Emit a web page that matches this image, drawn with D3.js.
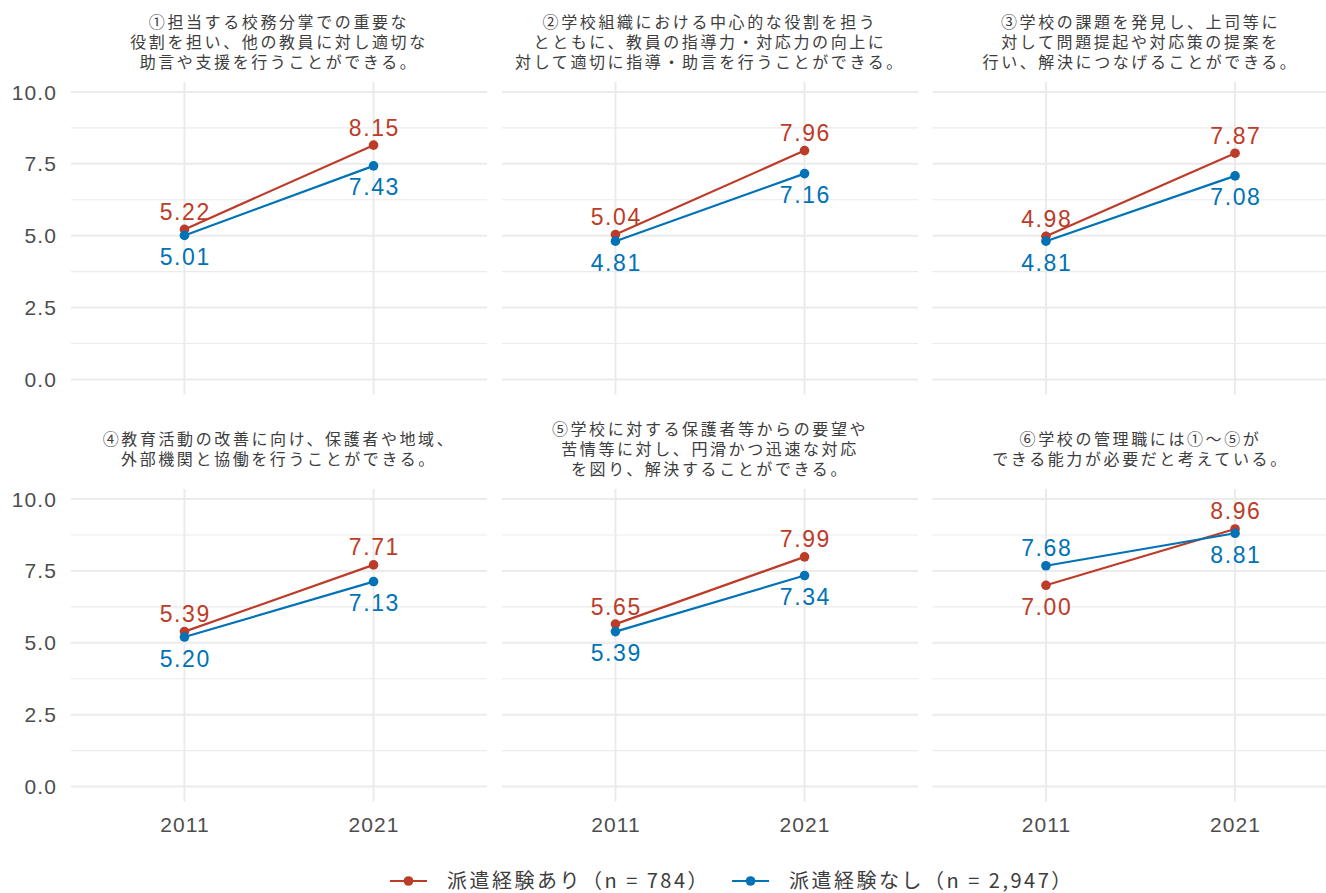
<!DOCTYPE html>
<html>
<head>
<meta charset="utf-8">
<script src="https://cdn.jsdelivr.net/npm/d3@7"></script>
<style>
  body { margin: 0; background: #fff; }
  .title { font-family: "Noto Sans CJK JP", sans-serif; font-size: 16px; fill: #3d3d3d; letter-spacing: 2.6px; }
  .tick-label { font-family: "Liberation Sans", Arial, sans-serif; font-size: 21px; fill: #4d4d4d; letter-spacing: 1.1px; }
  .val { font-family: "Liberation Sans", Arial, sans-serif; font-size: 23px; letter-spacing: 1.6px; }
  .legend-text { font-family: "Noto Sans CJK JP", sans-serif; font-size: 20px; fill: #3d3d3d; letter-spacing: 2.5px; }
</style>
</head>
<body>
<div id="chart"></div>
<script>
var years = ["2011", "2021"];
var yTicks = [0, 2.5, 5, 7.5, 10];
var yMinor = [1.25, 3.75, 6.25, 8.75];

var titles = [
  ["①担当する校務分掌での重要な", "役割を担い、他の教員に対し適切な", "助言や支援を行うことができる。"],
  ["②学校組織における中心的な役割を担う", "とともに、教員の指導力・対応力の向上に", "対して適切に指導・助言を行うことができる。"],
  ["③学校の課題を発見し、上司等に", "対して問題提起や対応策の提案を", "行い、解決につなげることができる。"],
  ["④教育活動の改善に向け、保護者や地域、", "外部機関と協働を行うことができる。"],
  ["⑤学校に対する保護者等からの要望や", "苦情等に対し、円滑かつ迅速な対応", "を図り、解決することができる。"],
  ["⑥学校の管理職には①～⑤が", "できる能力が必要だと考えている。"]
];

// 派遣経験あり / なし, values for 2011 and 2021 per panel
var withDispatch = [[5.22, 8.15], [5.04, 7.96], [4.98, 7.87], [5.39, 7.71], [5.65, 7.99], [7.00, 8.96]];
var withoutDispatch = [[5.01, 7.43], [4.81, 7.16], [4.81, 7.08], [5.20, 7.13], [5.39, 7.34], [7.68, 8.81]];

var seriesNames = ["派遣経験あり（n = 784）", "派遣経験なし（n = 2,947）"];
var colors = ["#BC3C29", "#0072B5"];

var width = 1326, height = 893;
var panelW = 416, panelH = 312.5;
var colX = [71, 502, 932.5];
var rowY = [81.9, 489];

var x = d3.scalePoint().domain(years).range([0, panelW]).padding(0.6);
var y = d3.scaleLinear().domain([-0.52, 10.35]).range([panelH, 0]);

var line = d3.line()
    .x(function(d) { return x(d.year); })
    .y(function(d) { return y(d.value); });

var svg = d3.select("#chart").append("svg")
    .attr("width", width)
    .attr("height", height)
    .style("background", "#fff");

titles.forEach(function(title, i) {
  var col = i % 3, row = Math.floor(i / 3);
  var g = svg.append("g")
      .attr("transform", "translate(" + colX[col] + "," + rowY[row] + ")");

  // grid
  g.selectAll(".minor").data(yMinor).enter().append("line")
      .attr("x1", 0).attr("x2", panelW)
      .attr("y1", function(d) { return y(d); }).attr("y2", function(d) { return y(d); })
      .style("stroke", "#ebebeb").style("stroke-width", 1.1);
  g.selectAll(".major").data(yTicks).enter().append("line")
      .attr("x1", 0).attr("x2", panelW)
      .attr("y1", function(d) { return y(d); }).attr("y2", function(d) { return y(d); })
      .style("stroke", "#ebebeb").style("stroke-width", 2);
  g.selectAll(".vgrid").data(years).enter().append("line")
      .attr("x1", function(d) { return x(d); }).attr("x2", function(d) { return x(d); })
      .attr("y1", 0).attr("y2", panelH)
      .style("stroke", "#ebebeb").style("stroke-width", 2);

  // strip title, centred on block
  var lineH = 19.8;
  var top = -39.5 - (title.length - 1) * lineH / 2;
  title.forEach(function(t, k) {
    g.append("text")
        .attr("class", "title")
        .attr("x", panelW / 2)
        .attr("y", top + k * lineH)
        .attr("dy", "0.36em")
        .attr("text-anchor", "middle")
        .text(t);
  });

  // y axis labels on the left column only
  if (col === 0) {
    g.selectAll(".ytick").data(yTicks).enter().append("text")
        .attr("class", "tick-label")
        .attr("x", -14)
        .attr("y", function(d) { return y(d); })
        .attr("dy", "0.36em")
        .attr("text-anchor", "end")
        .text(function(d) { return d3.format(".1f")(d); });
  }
  if (row === 1) {
    g.selectAll(".xtick").data(years).enter().append("text")
        .attr("class", "tick-label")
        .attr("x", function(d) { return x(d) + 0.5; })
        .attr("y", panelH + 23)
        .attr("dy", "0.36em")
        .attr("text-anchor", "middle")
        .text(function(d) { return d; });
  }

  var series = [withDispatch[i], withoutDispatch[i]].map(function(vals) {
    return vals.map(function(v, j) { return {year: years[j], value: v}; });
  });

  series.forEach(function(s, si) {
    g.append("path")
        .attr("d", line(s))
        .style("fill", "none")
        .style("stroke", colors[si])
        .style("stroke-width", 2.2);
  });

  series.forEach(function(s, si) {
    var other = series[1 - si];
    g.selectAll(".pt" + si).data(s).enter().append("circle")
        .attr("cx", function(d) { return x(d.year); })
        .attr("cy", function(d) { return y(d.value); })
        .attr("r", 4.8)
        .style("fill", colors[si]);

    // label above the higher point, below the lower one
    g.selectAll(".lb" + si).data(s).enter().append("text")
        .attr("class", "val")
        .attr("x", function(d) { return x(d.year) + 0.8; })
        .attr("y", function(d, j) {
          var above = d.value >= other[j].value;
          return y(d.value) + (above ? -9.5 : 29.5);
        })
        .attr("text-anchor", "middle")
        .style("fill", colors[si])
        .text(function(d) { return d3.format(".2f")(d.value); });
  });
});

// legend
var legend = svg.append("g").attr("transform", "translate(390,881)");
var lx = 0;
seriesNames.forEach(function(name, i) {
  var item = legend.append("g").attr("transform", "translate(" + lx + ",0)");
  item.append("line")
      .attr("x1", 0).attr("x2", 37)
      .attr("y1", 0).attr("y2", 0)
      .style("stroke", colors[i]).style("stroke-width", 2.2);
  item.append("circle")
      .attr("cx", 18.5).attr("cy", 0).attr("r", 4.8)
      .style("fill", colors[i]);
  var t = item.append("text")
      .attr("class", "legend-text")
      .attr("x", 57)
      .attr("y", 0)
      .attr("dy", "0.36em")
      .text(name);
  lx += 57 + t.node().getComputedTextLength() + 22;
});
</script>
</body>
</html>
